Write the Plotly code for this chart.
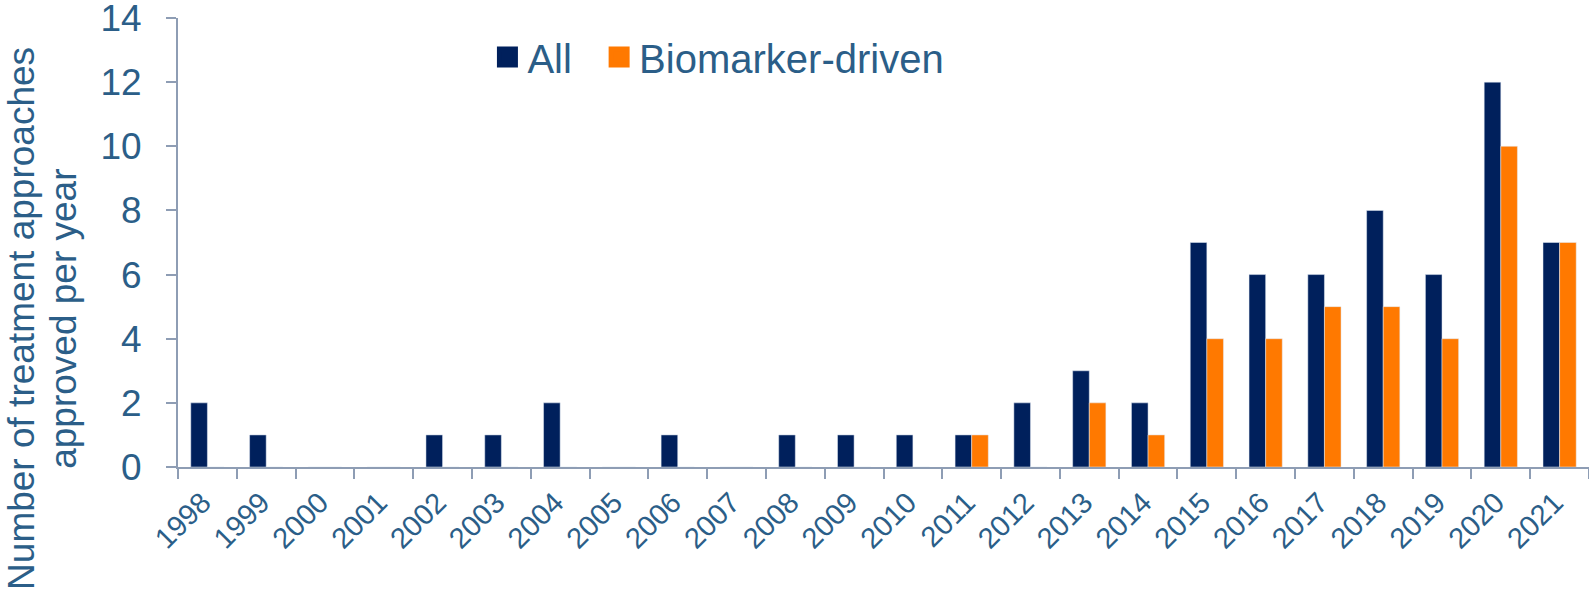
import plotly.graph_objects as go

years = [str(y) for y in range(1998, 2022)]
all_counts = [2, 1, 0, 0, 1, 1, 2, 0, 1, 0, 1, 1, 1, 1, 2, 3, 2, 7, 6, 6, 8, 6, 12, 7]
biomarker_counts = [0, 0, 0, 0, 0, 0, 0, 0, 0, 0, 0, 0, 0, 1, 0, 2, 1, 4, 4, 5, 5, 4, 10, 7]
series_names = ["All", "Biomarker-driven"]
y_ticks = [0, 2, 4, 6, 8, 10, 12, 14]
y_title_lines = ["Number of treatment approaches", "approved per year"]

NAVY = "#00205C"
ORANGE = "#FF7900"
TEXT = "#2B5E88"
AXIS = "#8E9DB4"
FONT = "Liberation Sans, Arial, sans-serif"

fig = go.Figure()
fig.add_trace(go.Bar(x=years, y=all_counts, name=series_names[0], marker_color=NAVY,
                     showlegend=False))
fig.add_trace(go.Bar(x=years, y=biomarker_counts, name=series_names[1], marker_color=ORANGE,
                     showlegend=False))
# legend entries (larger square swatches)
legend_labels = [series_names[0] + "\u00a0\u00a0", series_names[1]]
for nm, col in zip(legend_labels, [NAVY, ORANGE]):
    fig.add_trace(go.Scatter(x=[years[0]], y=[None], mode="markers", name=nm,
                             hoverinfo="skip",
                             marker=dict(symbol="square", size=16, color=col,
                                         line=dict(color=col, width=5))))

fig.update_layout(
    width=1589, height=590,
    margin=dict(l=178, r=0, t=18, b=123, autoexpand=False),
    paper_bgcolor="white", plot_bgcolor="white",
    font=dict(family=FONT, color=TEXT),
    barmode="group", bargap=0.435, bargroupgap=0,
    legend=dict(orientation="h", x=0.2193, y=0.913, xanchor="left", yanchor="middle",
                font=dict(size=40, color=TEXT), bgcolor="rgba(0,0,0,0)"),
)
fig.update_xaxes(
    type="category", range=[-0.5, len(years) - 0.5], automargin=False,
    showline=True, linecolor=AXIS, linewidth=2,
    ticks="outside", tickson="boundaries", ticklen=10, tickwidth=2, tickcolor=AXIS,
    tickangle=-45, tickfont=dict(size=29, color=TEXT), ticklabelstandoff=5,
    ticklabelshift=-5,
    showgrid=False, zeroline=False,
)
fig.update_yaxes(
    range=[0, 14], tickvals=y_ticks, automargin=False, ticklabeloverflow="allow",
    showline=True, linecolor=AXIS, linewidth=2,
    ticks="outside", ticklen=10, tickwidth=2, tickcolor=AXIS,
    tickfont=dict(size=37, color=TEXT), ticklabelstandoff=17,
    showgrid=False, zeroline=False,
)
for line, xp in zip(y_title_lines, [-0.1105, -0.0808]):
    fig.add_annotation(text=line, xref="paper", yref="paper", x=xp, y=0.33,
                       xanchor="center", yanchor="middle", textangle=-90, showarrow=False,
                       font=dict(size=37, color=TEXT, family=FONT))

fig.write_html("out.html", config={"displayModeBar": False},
               post_script="document.body.style.margin='0';document.body.style.overflow='hidden';")
